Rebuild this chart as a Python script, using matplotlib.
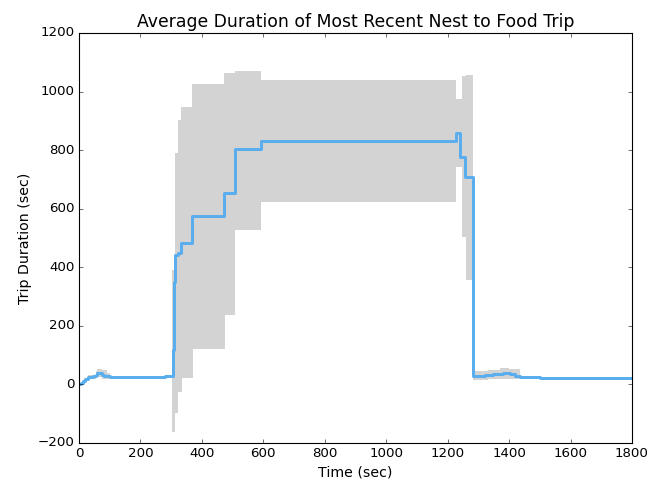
import matplotlib
matplotlib.use("Agg")
import matplotlib.pyplot as plt
import numpy as np

# Mean trip duration (step data)
line_t = [0, 6, 13, 20, 30, 47, 55, 60, 68, 75, 80, 90, 100, 200, 250, 280, 300,
          307, 308, 310, 314, 322, 332, 368, 473, 508, 592, 1226, 1241, 1255,
          1281, 1320, 1349, 1380, 1403, 1420, 1436, 1500, 1600, 1800]
line_v = [0, 4, 12, 18, 26, 28, 33, 40, 38, 32, 28, 30, 26, 25, 24, 28, 30,
          117, 254, 351, 442, 448, 484, 576, 652, 803, 832, 859, 777, 707,
          30, 32, 35, 38, 35, 30, 26, 23, 22, 22]

# Shaded spread band (step data)
band_t = [0, 30, 55, 60, 75, 90, 100, 110, 300, 304, 312, 314, 321, 323, 332,
          334, 368, 372, 473, 475, 508, 592, 1227, 1246, 1260, 1284, 1330,
          1370, 1400, 1436, 1500, 1800]
band_lo = [0, 20, 22, 25, 18, 20, 22, 24, 28, -161, -161, -99, -25, -25, -25,
           21, 21, 121, 121, 237, 527, 624, 741, 504, 356, 14, 17, 20, 18, 24,
           21, 20]
band_hi = [0, 32, 45, 52, 48, 40, 30, 27, 32, 390, 790, 790, 790, 902, 948,
           948, 1025, 1025, 1064, 1064, 1069, 1039, 973, 1053, 1056, 45, 48,
           55, 52, 28, 24, 23]

plt.style.use("classic")
fig = plt.figure(figsize=(654 / 80, 491 / 80), dpi=80, facecolor="white")
ax = fig.add_axes([79 / 654, 1 - 443 / 491, 553 / 654, 410 / 491])

ax.fill_between(band_t, band_lo, band_hi, step="post", color="#d3d3d3",
                edgecolor="none", linewidth=0)
ax.plot(line_t, line_v, drawstyle="steps-post", color="#5aaeee", lw=2.7)

ax.set_xlim(0, 1800)
ax.set_ylim(-200, 1200)
ax.set_xticks(np.arange(0, 1801, 200))
ax.set_yticks(np.arange(-200, 1201, 200))
ax.set_title("Average Duration of Most Recent Nest to Food Trip", fontsize=15.5)
ax.set_xlabel("Time (sec)", fontsize=12.7)
ax.set_ylabel("Trip Duration (sec)", fontsize=12.7)
ax.tick_params(labelsize=12)

fig.savefig("out.png", dpi=80, facecolor="white")
